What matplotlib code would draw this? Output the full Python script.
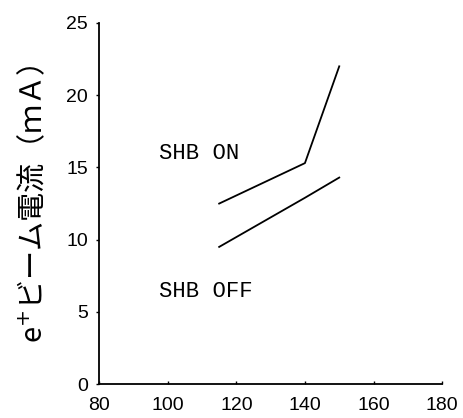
import matplotlib.pyplot as plt

# data
x_on = [115, 140, 150]
y_on = [12.5, 15.3, 22.0]
x_off = [115, 140, 150]
y_off = [9.5, 12.9, 14.3]

xticks = [80, 100, 120, 140, 160, 180]
yticks = [0, 5, 10, 15, 20, 25]

fig = plt.figure(figsize=(4.63, 4.18), dpi=100)
ax = fig.add_axes([0.214, 0.081, 0.741, 0.864])

ax.plot(x_on, y_on, color="black", lw=1.3)
ax.plot(x_off, y_off, color="black", lw=1.3)

ax.text(97.5, 16.0, "SHB ON", family="Liberation Mono", fontsize=16, va="center")
ax.text(97.5, 6.4, "SHB OFF", family="Liberation Mono", fontsize=16, va="center")

ax.set_xlim(80, 180)
ax.set_ylim(0, 25)
ax.set_xticks(xticks)
ax.set_yticks(yticks)
ax.tick_params(axis="y", direction="out", length=2, width=1, labelsize=14, pad=6)
ax.tick_params(axis="x", direction="in", length=2, width=1, labelsize=14, pad=9)
for t in ax.get_xticklabels() + ax.get_yticklabels():
    t.set_family("Liberation Sans")

for s in ["top", "right"]:
    ax.spines[s].set_visible(False)
ax.spines["left"].set_linewidth(1.3)
ax.spines["bottom"].set_linewidth(1.3)

ax.set_ylabel("e$^{+}$ビーム電流（ｍＡ）", family=["Noto Sans CJK JP", "DejaVu Sans"],
              fontsize=21, labelpad=12)

fig.savefig("out.png", dpi=100)
